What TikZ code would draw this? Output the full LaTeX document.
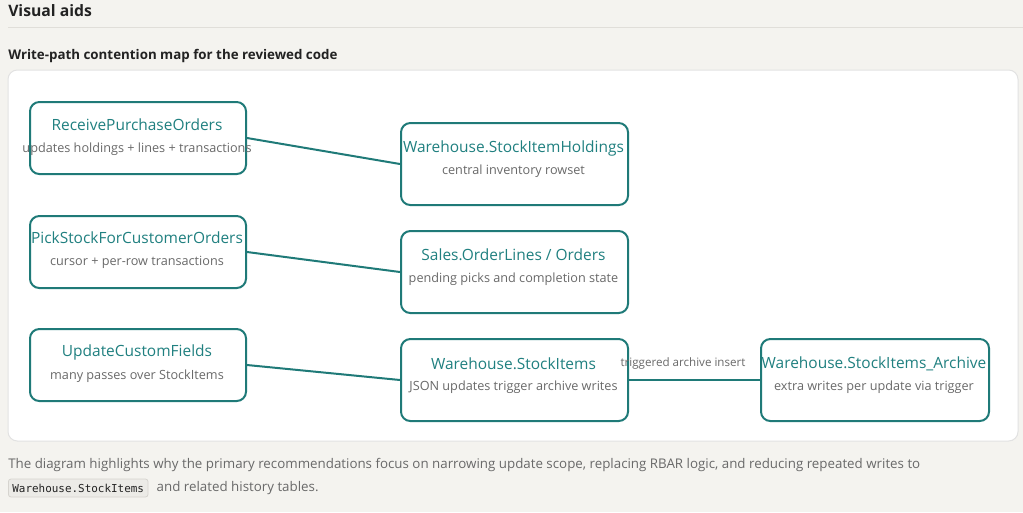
\documentclass[tikz,border=0pt]{standalone}
\usepackage{fontspec}
\setmainfont{Open Sans}
\setmonofont{DejaVu Sans Mono}
\definecolor{bg}{RGB}{244,243,239}
\definecolor{teal}{RGB}{31,122,120}
\definecolor{tealtext}{RGB}{32,128,128}
\definecolor{subgray}{RGB}{105,105,105}
\definecolor{heading}{RGB}{34,34,34}
\definecolor{rule}{RGB}{224,222,217}
\definecolor{panelborder}{RGB}{226,226,226}
\definecolor{codebg}{RGB}{236,235,231}
\definecolor{codeborder}{RGB}{214,212,207}
\begin{document}
\begin{tikzpicture}[x=0.75pt,y=-0.75pt,
  procbox/.style={draw=teal, line width=1.5pt, rounded corners=7pt, fill=white, inner sep=0pt, anchor=north west},
  leftbox/.style={procbox, minimum width=162pt, minimum height=54pt},
  rightbox/.style={procbox, minimum width=170.25pt, minimum height=61.5pt},
  ttl/.style={text=tealtext, font=\fontsize{11.6pt}{13pt}\selectfont, inner sep=0pt},
  sub/.style={text=subgray, font=\fontsize{9.5pt}{11pt}\selectfont, inner sep=0pt},
  conn/.style={draw=teal, line width=1.5pt},
  edgelbl/.style={text=subgray, font=\fontsize{8.7pt}{10pt}\selectfont, inner sep=0pt},
  body/.style={text=subgray, font=\fontsize{10pt}{12pt}\selectfont, inner sep=0pt, anchor=west}
]
\useasboundingbox (0,0) rectangle (1023,512);
\fill[bg] (0,0) rectangle (1023,512);
\node[anchor=west, inner sep=0pt, text=heading, font=\bfseries\fontsize{11.8pt}{14pt}\selectfont] (h1) at (8,11) {Visual aids};
\draw[rule, line width=0.75pt] (8,27) -- (1023,27);
\node[anchor=west, inner sep=0pt, text=heading, font=\bfseries\fontsize{10pt}{12pt}\selectfont] (h2) at (8,56) {Write-path contention map for the reviewed code};
\draw[panelborder, fill=white, line width=0.75pt, rounded corners=7pt] (8,70) rectangle (1018,441);

% left boxes
\node[leftbox] (rpo) at (29,101) {};
\node[ttl] (rpoT) at (137,125) {ReceivePurchaseOrders};
\node[sub] (rpoS) at (137,149) {updates holdings + lines + transactions};
\node[leftbox] (psc) at (29,215) {};
\node[ttl] (pscT) at (137,238) {PickStockForCustomerOrders};
\node[sub] (pscS) at (137,262) {cursor + per-row transactions};
\node[leftbox] (ucf) at (29,328) {};
\node[ttl] (ucfT) at (137,352) {UpdateCustomFields};
\node[sub] (ucfS) at (137,376) {many passes over StockItems};

% right boxes
\node[rightbox] (sih) at (400,122) {};
\node[ttl] (sihT) at (513.5,148) {Warehouse.StockItemHoldings};
\node[sub] (sihS) at (513.5,171) {central inventory rowset};
\node[rightbox] (sol) at (400,230) {};
\node[ttl] (solT) at (513.5,255) {Sales.OrderLines / Orders};
\node[sub] (solS) at (513.5,279) {pending picks and completion state};
\node[rightbox] (si) at (400,338) {};
\node[ttl] (siT) at (513.5,364) {Warehouse.StockItems};
\node[sub] (siS) at (513.5,387) {JSON updates trigger archive writes};
\node[rightbox, minimum width=171pt] (sia) at (760,338) {};
\node[ttl] (siaT) at (874,364) {Warehouse.StockItems\_Archive};
\node[sub] (siaS) at (874,387) {extra writes per update via trigger};

% connectors
\draw[conn] (rpo.east) -- (sih.west);
\draw[conn] (psc.east) -- (sol.west);
\draw[conn] (ucf.east) -- (si.west);
\draw[conn] (si.east) -- (sia.west);
\node[edgelbl] (lbl) at (683,363) {triggered archive insert};

% bottom text
\node[body] (p1) at (8,465) {The diagram highlights why the primary recommendations focus on narrowing update scope, replacing RBAR logic, and reducing repeated writes to};
\node[anchor=west, inner xsep=3pt, inner ysep=0pt, minimum height=13.5pt, fill=codebg, draw=codeborder, line width=0.6pt, rounded corners=2pt, text=heading, font=\ttfamily\fontsize{8.2pt}{9pt}\selectfont] (code) at (8,488) {Warehouse.StockItems};
\node[body] (p2) at ([xshift=6pt]code.east) {and related history tables.};
\end{tikzpicture}
\end{document}
